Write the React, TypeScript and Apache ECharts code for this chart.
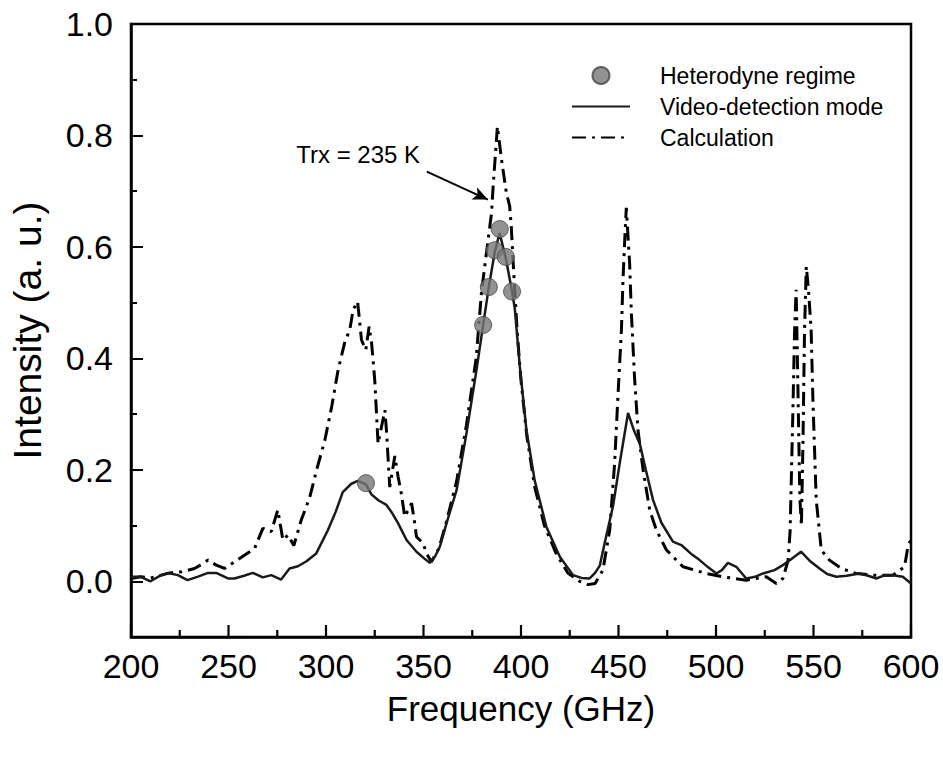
import React, { useEffect, useRef } from "react";
import * as echarts from "echarts";

// Video-detection mode (solid line)
const videoFreq = [200, 205, 210, 215, 219, 224, 229, 234, 239.5, 243.7, 249.7, 253, 258, 262.5, 267.6, 271.9, 277, 281.3, 285.6, 290, 295, 301, 305, 308.6, 313, 316.3, 320.5, 323.3, 327, 331, 334, 337, 341.3, 346.4, 350, 353.2, 356, 358.4, 361.8, 367, 372, 377.2, 380.6, 383.5, 386.5, 389, 392.2, 395.4, 396.8, 399.4, 402.8, 407, 413, 419.9, 426.7, 431, 435.2, 438, 440.4, 443, 447.2, 451, 454.9, 458, 460.9, 464, 467.7, 472, 477.9, 482.2, 487, 491.6, 496, 500.2, 503, 506.1, 510.4, 515.5, 520, 524.1, 530, 534.3, 538, 543.6, 548, 553.1, 557, 561.7, 567, 573.6, 578, 582.2, 586, 590.7, 595.8, 600];
const videoVal = [0.008, 0.008, 0.0, 0.01, 0.015, 0.011, 0.002, 0.008, 0.015, 0.015, 0.005, 0.005, 0.01, 0.015, 0.007, 0.011, 0.003, 0.023, 0.027, 0.036, 0.05, 0.092, 0.125, 0.16, 0.175, 0.18, 0.174, 0.156, 0.145, 0.137, 0.122, 0.104, 0.074, 0.053, 0.042, 0.033, 0.045, 0.062, 0.104, 0.164, 0.265, 0.38, 0.46, 0.528, 0.59, 0.625, 0.58, 0.52, 0.49, 0.385, 0.271, 0.181, 0.098, 0.044, 0.011, 0.006, 0.005, 0.015, 0.028, 0.07, 0.135, 0.22, 0.302, 0.27, 0.247, 0.2, 0.146, 0.105, 0.071, 0.065, 0.05, 0.038, 0.025, 0.014, 0.02, 0.033, 0.026, 0.005, 0.008, 0.014, 0.02, 0.029, 0.038, 0.053, 0.037, 0.023, 0.013, 0.008, 0.01, 0.014, 0.01, 0.005, 0.01, 0.011, 0.008, -0.004];

// Calculation (dash-dot line)
const calcFreq = [200, 205, 210, 215.5, 220, 226, 232.6, 236, 239.5, 243.7, 248, 253.1, 257.4, 263.4, 267.6, 271.9, 275.3, 277.9, 280.5, 283.5, 287.3, 291.6, 295.2, 299.4, 302.9, 306.2, 309.7, 312.2, 313.9, 316.2, 318.2, 320.4, 322.1, 323.4, 325, 326.7, 330.2, 331, 332.7, 335.3, 337, 338.5, 340.4, 343.9, 345.5, 346.4, 349.8, 351.5, 354.1, 358, 362, 367, 372, 377, 379.7, 381.4, 384.9, 385.7, 387.9, 390, 392.5, 394.2, 395, 395.9, 398, 400, 403, 407, 412, 418, 424, 430, 434.4, 438, 442, 445.5, 448, 449.7, 451.5, 452.3, 453.2, 454, 455.7, 456.6, 458.3, 460, 462.6, 466, 469.4, 474.6, 483.1, 495, 503.6, 515.5, 525.8, 530.9, 534.3, 537, 538, 539.4, 540.3, 541.1, 542, 543, 543.8, 544.6, 545.4, 546.3, 547.5, 548.8, 549.7, 551.4, 554, 558.2, 564.2, 571.9, 580.5, 590.7, 596.7, 598.4, 600];
const calcVal = [0.005, 0.008, 0.006, 0.011, 0.015, 0.017, 0.023, 0.03, 0.038, 0.029, 0.023, 0.035, 0.045, 0.059, 0.095, 0.089, 0.128, 0.074, 0.083, 0.064, 0.11, 0.15, 0.2, 0.253, 0.313, 0.379, 0.43, 0.451, 0.487, 0.502, 0.433, 0.415, 0.457, 0.427, 0.361, 0.247, 0.307, 0.271, 0.169, 0.225, 0.187, 0.16, 0.116, 0.14, 0.104, 0.08, 0.068, 0.05, 0.035, 0.06, 0.11, 0.18, 0.28, 0.4, 0.517, 0.565, 0.661, 0.708, 0.816, 0.757, 0.697, 0.673, 0.637, 0.577, 0.45, 0.36, 0.26, 0.17, 0.1, 0.05, 0.015, 0.0, -0.006, -0.004, 0.02, 0.092, 0.211, 0.331, 0.451, 0.541, 0.613, 0.67, 0.571, 0.481, 0.361, 0.271, 0.2, 0.128, 0.092, 0.056, 0.026, 0.014, 0.008, 0.002, 0.008, -0.004, 0.005, 0.038, 0.09, 0.3, 0.45, 0.523, 0.35, 0.15, 0.1, 0.25, 0.45, 0.565, 0.52, 0.45, 0.325, 0.146, 0.056, 0.038, 0.023, 0.014, 0.011, 0.011, 0.026, 0.062, 0.075];

// Heterodyne regime (markers)
const hetFreq = [320.5, 380.6, 383.5, 386.5, 389.1, 392.2, 395.4];
const hetVal = [0.176, 0.46, 0.528, 0.594, 0.632, 0.582, 0.52];

const xMajorTicks = [200, 250, 300, 350, 400, 450, 500, 550, 600];
const xMinorTicks = [225, 275, 325, 375, 425, 475, 525, 575];
const yMajorTicks = [0.0, 0.2, 0.4, 0.6, 0.8, 1.0];
const yMinorTicks = [-0.1, 0.1, 0.3, 0.5, 0.7, 0.9];
const yMin = -0.1;
const yMax = 1.0;

const annotationText = "Trx = 235 K";
const annotationPos = [316.5, 0.765];
const arrowFrom = [351.7, 0.735];
const arrowTo = [383, 0.685];

const FONT = "'Liberation Sans', Arial, sans-serif";

const zip = (a: number[], b: number[]) => a.map((v, i) => [v, b[i]]);

export default function App() {
  const ref = useRef<HTMLDivElement>(null);
  useEffect(() => {
    if (!ref.current) return;
    const chart = echarts.init(ref.current, undefined, { renderer: "svg" });
    const axisLineStyle = { color: "#000", width: 2.5 };
    const tickStyle = { color: "#000", width: 2 };
    const xTickData = [
      ...xMajorTicks.map((v) => [v, 1]),
      ...xMinorTicks.map((v) => [v, 0]),
    ];
    chart.setOption({
      animation: false,
      backgroundColor: "#fff",
      grid: {
        left: 131,
        right: 32,
        top: 24,
        bottom: 120,
        show: true,
        borderColor: "#000",
        borderWidth: 2.5,
        backgroundColor: "transparent",
      },
      legend: {
        left: 566,
        top: 59,
        orient: "vertical",
        itemWidth: 58,
        itemHeight: 17,
        itemGap: 8,
        textStyle: {
          fontSize: 23,
          fontFamily: FONT,
          color: "#000",
          padding: [0, 0, 0, 25],
        },
        data: [
          { name: "Heterodyne regime" },
          { name: "Video-detection mode", itemStyle: { opacity: 0 } },
          { name: "Calculation", itemStyle: { opacity: 0 } },
        ],
      },
      xAxis: {
        type: "value",
        min: 200,
        max: 600,
        interval: 50,
        name: "Frequency (GHz)",
        nameLocation: "middle",
        nameGap: 54,
        nameTextStyle: { fontSize: 35, fontFamily: FONT, color: "#000" },
        axisLine: { show: true, onZero: false, lineStyle: axisLineStyle },
        axisTick: { show: false },
        axisLabel: {
          fontSize: 34,
          fontFamily: FONT,
          color: "#000",
          margin: 12,
        },
        splitLine: { show: false },
      },
      yAxis: [
        {
          type: "value",
          min: yMin,
          max: yMax,
          name: "Intensity (a. u.)",
          nameLocation: "middle",
          nameGap: 84,
          nameTextStyle: { fontSize: 39, fontFamily: FONT, color: "#000" },
          axisLine: { show: true, onZero: false, lineStyle: axisLineStyle },
          axisTick: {
            show: true,
            inside: true,
            length: 12,
            customValues: yMajorTicks,
            lineStyle: tickStyle,
          },
          axisLabel: {
            fontSize: 34,
            fontFamily: FONT,
            color: "#000",
            margin: 18,
            customValues: yMajorTicks,
            formatter: (v: number) => v.toFixed(1),
          },
          splitLine: { show: false },
        },
        {
          type: "value",
          min: yMin,
          max: yMax,
          position: "left",
          axisLine: { show: false, onZero: false },
          axisTick: {
            show: true,
            inside: true,
            length: 6,
            customValues: yMinorTicks,
            lineStyle: tickStyle,
          },
          axisLabel: { show: false, customValues: yMinorTicks },
          splitLine: { show: false },
        },
      ],
      series: [
        {
          name: "xTicks",
          type: "custom",
          silent: true,
          clip: false,
          z: 10,
          data: xTickData,
          renderItem: (_params: any, api: any) => {
            const p = api.coord([api.value(0), yMin]);
            const len = api.value(1) ? 12 : 7;
            return {
              type: "line",
              shape: { x1: p[0], y1: p[1], x2: p[0], y2: p[1] - len },
              style: { stroke: "#000", lineWidth: 2.2 },
            };
          },
        },
        {
          name: "Video-detection mode",
          type: "line",
          data: zip(videoFreq, videoVal),
          showSymbol: false,
          symbol: "none",
          itemStyle: { color: "#1a1a1a" },
          lineStyle: { color: "#1a1a1a", width: 2.5 },
          z: 3,
        },
        {
          name: "Calculation",
          type: "line",
          data: zip(calcFreq, calcVal),
          showSymbol: false,
          symbol: "none",
          itemStyle: { color: "#000" },
          lineStyle: { color: "#000", width: 3, type: [14, 6, 3, 6] },
          z: 2,
          markLine: {
            silent: true,
            symbol: ["none", "arrow"],
            symbolSize: [10, 15],
            lineStyle: { color: "#000", width: 2, type: "solid" },
            label: { show: false },
            data: [[{ coord: arrowFrom }, { coord: arrowTo }]],
          },
          markPoint: {
            silent: true,
            symbol: "circle",
            symbolSize: 0,
            label: {
              show: true,
              position: "inside",
              formatter: annotationText,
              fontSize: 24,
              fontFamily: FONT,
              color: "#000",
            },
            data: [{ coord: annotationPos }],
          },
        },
        {
          name: "Heterodyne regime",
          type: "scatter",
          data: zip(hetFreq, hetVal),
          symbol: "circle",
          symbolSize: 17,
          itemStyle: { color: "#777", borderColor: "#444", borderWidth: 1 },
          z: 5,
        },
      ],
    });
    return () => chart.dispose();
  }, []);
  return (
    <div
      ref={ref}
      style={{ position: "absolute", left: 0, top: 0, width: 943, height: 757 }}
    />
  );
}
